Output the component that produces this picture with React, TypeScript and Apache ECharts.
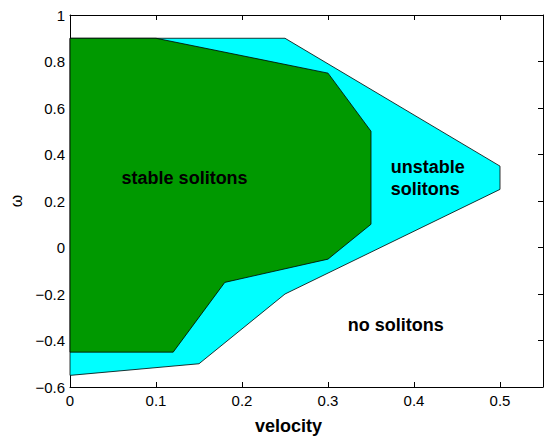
import React, { useEffect, useRef } from "react";
import * as echarts from "echarts";

// Outer region: unstable solitons (cyan)
const unstableVelocity = [0, 0.25, 0.5, 0.5, 0.25, 0.15, 0];
const unstableOmega = [0.9, 0.9, 0.35, 0.25, -0.2, -0.5, -0.55];
// Inner region: stable solitons (green)
const stableVelocity = [0, 0.1, 0.3, 0.35, 0.35, 0.3, 0.18, 0.12, 0];
const stableOmega = [0.9, 0.9, 0.75, 0.5, 0.1, -0.05, -0.15, -0.45, -0.45];

const labelTexts = ["stable solitons", "unstable\nsolitons", "no solitons"];
const labelVelocity = [0.06, 0.373, 0.323];
const labelOmega = [0.3, 0.3, -0.335];

const xTicks = [0, 0.1, 0.2, 0.3, 0.4, 0.5];
const yTicks = [-0.6, -0.4, -0.2, 0, 0.2, 0.4, 0.6, 0.8, 1];

const FONT = '"Liberation Sans", Arial, Helvetica, sans-serif';

const fmt = (v: number) => {
  const r = Math.round(v * 100) / 100;
  if (Math.abs(r) < 1e-9) return "0";
  return r < 0 ? "\u2212" + String(Math.abs(r)) : String(r);
};

const polySeries = (vs: number[], ws: number[], color: string) => ({
  type: "custom",
  coordinateSystem: "cartesian2d",
  xAxisIndex: 0,
  yAxisIndex: 0,
  data: vs.map((v, i) => [v, ws[i]]),
  silent: true,
  renderItem: (params: any, api: any) => {
    if (params.dataIndex !== 0) return null;
    const pts = vs.map((v, i) => api.coord([v, ws[i]]));
    return {
      type: "polygon",
      shape: { points: pts },
      style: { fill: color, stroke: "#000", lineWidth: 0.8 },
    };
  },
});

export default function App() {
  const ref = useRef<HTMLDivElement>(null);
  useEffect(() => {
    if (!ref.current) return;
    const chart = echarts.init(ref.current, undefined, { renderer: "svg" });
    const axisLine = { show: true, onZero: false, lineStyle: { color: "#000", width: 1 } };
    const tick = { show: true, inside: true, length: 5, lineStyle: { color: "#000", width: 1 } };
    chart.setOption({
      animation: false,
      backgroundColor: "#fff",
      grid: { left: 68, right: 0, top: 15, bottom: 47 },
      xAxis: [
        {
          type: "value",
          min: 0,
          max: 0.55,
          interval: 0.1,
          position: "bottom",
          name: "velocity",
          nameLocation: "middle",
          nameGap: 30,
          nameTextStyle: { fontFamily: FONT, fontSize: 18, fontWeight: "bold", color: "#000", padding: [0, 36, 0, 0] },
          axisLine,
          axisTick: tick,
          splitLine: { show: false },
          axisLabel: {
            color: "#000",
            fontFamily: FONT,
            fontSize: 15,
            margin: 6,
            formatter: (v: number) => (xTicks.some((t) => Math.abs(t - v) < 1e-9) ? fmt(v) : ""),
          },
        },
        {
          type: "value",
          min: 0,
          max: 0.55,
          interval: 0.1,
          position: "top",
          axisLine,
          axisTick: tick,
          axisLabel: { show: false },
          splitLine: { show: false },
        },
      ],
      yAxis: [
        {
          type: "value",
          min: -0.6,
          max: 1,
          interval: 0.2,
          position: "left",
          name: "\u03c9",
          nameLocation: "middle",
          nameRotate: 90,
          nameGap: 46,
          nameTextStyle: { fontFamily: FONT, fontSize: 16, color: "#000" },
          axisLine,
          axisTick: tick,
          splitLine: { show: false },
          axisLabel: {
            color: "#000",
            fontFamily: FONT,
            fontSize: 15,
            margin: 5,
            formatter: (v: number) => (yTicks.some((t) => Math.abs(t - v) < 1e-9) ? fmt(v) : ""),
          },
        },
        {
          type: "value",
          min: -0.6,
          max: 1,
          interval: 0.2,
          position: "right",
          axisLine,
          axisTick: tick,
          axisLabel: { show: false },
          splitLine: { show: false },
        },
      ],
      series: [
        polySeries(unstableVelocity, unstableOmega, "#00ffff"),
        polySeries(stableVelocity, stableOmega, "#009900"),
        {
          type: "custom",
          coordinateSystem: "cartesian2d",
          silent: true,
          data: labelTexts.map((_, i) => [labelVelocity[i], labelOmega[i]]),
          renderItem: (params: any, api: any) => {
            const i = params.dataIndex;
            const p = api.coord([labelVelocity[i], labelOmega[i]]);
            return {
              type: "text",
              x: p[0],
              y: p[1],
              style: {
                text: labelTexts[i],
                fill: "#000",
                font: `bold 18px ${FONT}`,
                align: "left",
                verticalAlign: "middle",
                textAlign: "left",
                textVerticalAlign: "middle",
                lineHeight: 22,
              },
            };
          },
        },
      ],
    });
    return () => chart.dispose();
  }, []);
  return (
    <div
      ref={ref}
      style={{ position: "fixed", left: 0, top: 0, width: 546, height: 440, background: "#fff" }}
    />
  );
}
